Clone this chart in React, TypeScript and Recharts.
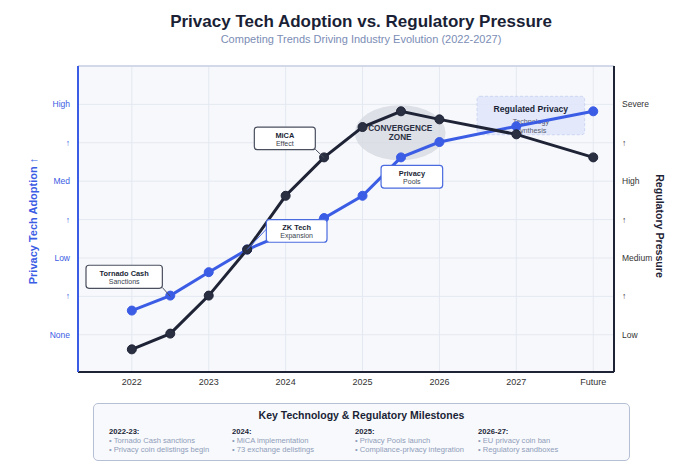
import React from 'react';
import {
  ComposedChart,
  Line,
  XAxis,
  YAxis,
  CartesianGrid,
  ReferenceArea,
  ReferenceLine,
} from 'recharts';

// ---- data ----
const periods = [2022, 2022.5, 2023, 2023.5, 2024, 2024.5, 2025, 2025.5, 2026, 2027, 2028];
const adoption = [0.63, 1.02, 1.63, 2.22, 2.64, 3.04, 3.62, 4.62, 5.02, 5.43, 5.82];
const pressure = [-0.38, 0.03, 1.02, 2.22, 3.62, 4.62, 5.41, 5.82, 5.61, 5.22, 4.62];
const xTicks = [2022, 2023, 2024, 2025, 2026, 2027, 2028];
const xTickLabels = ['2022', '2023', '2024', '2025', '2026', '2027', 'Future'];
const levelTicks = [0, 1, 2, 3, 4, 5, 6];
const adoptionLabels = ['None', '↑', 'Low', '↑', 'Med', '↑', 'High'];
const pressureLabels = ['Low', '↑', 'Medium', '↑', 'High', '↑', 'Severe'];

const annotations = [
  { x1: 2021.404, x2: 2022.397, y1: 1.21, y2: 1.81, title: 'Tornado Cash', sub: 'Sanctions', border: '#4a4f5e' },
  { x1: 2023.593, x2: 2024.386, y1: 4.82, y2: 5.41, title: 'MiCA', sub: 'Effect', border: '#4a4f5e' },
  { x1: 2023.749, x2: 2024.538, y1: 2.41, y2: 3.0, title: 'ZK Tech', sub: 'Expansion', border: '#4a6be0' },
  { x1: 2025.241, x2: 2026.042, y1: 3.82, y2: 4.41, title: 'Privacy', sub: 'Pools', border: '#4a6be0' },
];
const pointers = [
  { from: [2022.397, 1.23], to: [2022.5, 1.0], color: '#4a4f5e' },
  { from: [2024.386, 4.83], to: [2024.5, 4.61], color: '#4a4f5e' },
  { from: [2023.5, 2.22], to: [2023.749, 2.75], color: '#4a6be0' },
];
const convergence = { x1: 2024.9, x2: 2026.08, y1: 4.54, y2: 5.98, lines: ['CONVERGENCE', 'ZONE'] };
const regulated = { x1: 2026.489, x2: 2027.888, y1: 5.21, y2: 6.21, title: 'Regulated Privacy', lines: ['Technology', 'Synthesis'] };

const milestones = [
  { head: '2022-23:', items: ['Tornado Cash sanctions', 'Privacy coin delistings begin'] },
  { head: '2024:', items: ['MiCA implementation', '73 exchange delistings'] },
  { head: '2025:', items: ['Privacy Pools launch', 'Compliance-privacy integration'] },
  { head: '2026-27:', items: ['EU privacy coin ban', 'Regulatory sandboxes'] },
];

const rows = periods.map((p, i) => ({ period: p, adoption: adoption[i], pressure: pressure[i] }));

const BLUE = '#3b5ce4';
const DARK = '#1f2336';
const FONT = '"Liberation Sans", Arial, Helvetica, sans-serif';

const boxShape = (a: any) => (props: any) => {
  const { x, y, width, height } = props;
  const cx = x + width / 2;
  return (
    <g>
      <rect x={x} y={y} width={width} height={height} rx={3} ry={3} fill="#ffffff" stroke={a.border} strokeWidth={1.2} />
      <text x={cx} y={y + height * 0.36} textAnchor="middle" dominantBaseline="central" fontSize={7.4} fontWeight="bold" fill="#1a1f36" fontFamily={FONT}>
        {a.title}
      </text>
      <text x={cx} y={y + height * 0.71} textAnchor="middle" dominantBaseline="central" fontSize={7} fill="#3a3f4e" fontFamily={FONT}>
        {a.sub}
      </text>
    </g>
  );
};

const ellipseShape = (props: any) => {
  const { x, y, width, height } = props;
  const cx = x + width / 2;
  const cy = y + height / 2;
  return (
    <g>
      <ellipse cx={cx} cy={cy} rx={width / 2} ry={height / 2} fill="#d6d9e1" fillOpacity={0.8} />
      <text x={cx} y={cy - 4.5} textAnchor="middle" dominantBaseline="central" fontSize={8.2} fontWeight="bold" fill="#2a2f42" fontFamily={FONT}>
        {convergence.lines[0]}
      </text>
      <text x={cx} y={cy + 5} textAnchor="middle" dominantBaseline="central" fontSize={8.2} fontWeight="bold" fill="#2a2f42" fontFamily={FONT}>
        {convergence.lines[1]}
      </text>
    </g>
  );
};

const regulatedShape = (props: any) => {
  const { x, y, width, height } = props;
  const cx = x + width / 2;
  return (
    <g>
      <rect x={x} y={y} width={width} height={height} rx={3} fill="#dfe5fa" fillOpacity={0.85} stroke="#cdd6f3" strokeDasharray="3 2" />
      <text x={cx} y={y + 12.3} textAnchor="middle" dominantBaseline="central" fontSize={8.6} fontWeight="bold" fill="#1a1f36" fontFamily={FONT}>
        {regulated.title}
      </text>
      <text x={cx} y={y + 25} textAnchor="middle" dominantBaseline="central" fontSize={7.2} fill="#555b6e" fontFamily={FONT}>
        {regulated.lines[0]}
      </text>
      <text x={cx} y={y + 34} textAnchor="middle" dominantBaseline="central" fontSize={7.2} fill="#555b6e" fontFamily={FONT}>
        {regulated.lines[1]}
      </text>
    </g>
  );
};

export default function App() {
  return (
    <div style={{ position: 'absolute', left: 0, top: 0, width: 700, height: 467, background: '#ffffff', fontFamily: FONT }}>
      <div style={{ position: 'absolute', left: 161, width: 400, top: 11, textAlign: 'center', fontSize: 17, fontWeight: 'bold', color: '#1a1f36', lineHeight: '22px' }}>
        Privacy Tech Adoption vs. Regulatory Pressure
      </div>
      <div style={{ position: 'absolute', left: 161, width: 400, top: 32, textAlign: 'center', fontSize: 11, color: '#7b8db5', lineHeight: '14px' }}>
        Competing Trends Driving Industry Evolution (2022-2027)
      </div>

      <div style={{ position: 'absolute', left: 0, top: 0 }}>
        <ComposedChart width={700} height={467} data={rows} margin={{ top: 66, right: 56, bottom: 65, left: 48 }}>
          <CartesianGrid yAxisId="left" stroke="#e4e8f0" strokeWidth={1} fill="#f7f8fc" />
          <XAxis
            dataKey="period"
            type="number"
            domain={[2021.3, 2028.27]}
            ticks={xTicks}
            tickFormatter={(v: number) => xTickLabels[xTicks.indexOf(v)]}
            height={30}
            tickSize={0}
            tickMargin={7}
            axisLine={{ stroke: DARK, strokeWidth: 2 }}
            tick={{ fill: '#333333', fontSize: 9, fontFamily: FONT }}
            allowDataOverflow
          />
          <YAxis
            yAxisId="left"
            orientation="left"
            type="number"
            domain={[-0.97, 7]}
            ticks={levelTicks}
            tickFormatter={(v: number) => adoptionLabels[v]}
            width={30}
            tickSize={0}
            tickMargin={8}
            axisLine={{ stroke: BLUE, strokeWidth: 2 }}
            tick={{ fill: BLUE, fontSize: 8.5, fontFamily: FONT }}
            allowDataOverflow
          />
          <YAxis
            yAxisId="right"
            orientation="right"
            type="number"
            domain={[-0.97, 7]}
            ticks={levelTicks}
            tickFormatter={(v: number) => pressureLabels[v]}
            width={30}
            tickSize={0}
            tickMargin={8}
            axisLine={{ stroke: DARK, strokeWidth: 2 }}
            tick={{ fill: '#333333', fontSize: 8.5, fontFamily: FONT, textAnchor: 'start' }}
            allowDataOverflow
          />
          <ReferenceLine yAxisId="left" y={7} stroke="#c9d1e3" strokeWidth={1.5} ifOverflow="visible" />
          <ReferenceArea
            yAxisId="left"
            x1={convergence.x1}
            x2={convergence.x2}
            y1={convergence.y1}
            y2={convergence.y2}
            shape={ellipseShape}
            ifOverflow="visible"
            zIndex={100}
          />
          <ReferenceArea
            yAxisId="left"
            x1={regulated.x1}
            x2={regulated.x2}
            y1={regulated.y1}
            y2={regulated.y2}
            shape={regulatedShape}
            ifOverflow="visible"
            zIndex={100}
          />
          <Line
            yAxisId="left"
            dataKey="adoption"
            stroke={BLUE}
            strokeWidth={3}
            dot={{ r: 4.5, fill: BLUE, stroke: BLUE, strokeWidth: 1 }}
            activeDot={false}
            isAnimationActive={false}
          />
          <Line
            yAxisId="right"
            dataKey="pressure"
            stroke={DARK}
            strokeWidth={3}
            dot={{ r: 4.5, fill: '#2a2f42', stroke: DARK, strokeWidth: 1 }}
            activeDot={false}
            isAnimationActive={false}
          />
          {pointers.map((p, i) => (
            <ReferenceLine
              key={'p' + i}
              yAxisId="left"
              segment={[
                { x: p.from[0], y: p.from[1] },
                { x: p.to[0], y: p.to[1] },
              ]}
              stroke={p.color}
              strokeWidth={1}
              ifOverflow="visible"
              zIndex={1400}
            />
          ))}
          {annotations.map((a, i) => (
            <ReferenceArea
              key={'a' + i}
              yAxisId="left"
              x1={a.x1}
              x2={a.x2}
              y1={a.y1}
              y2={a.y2}
              shape={boxShape(a)}
              ifOverflow="visible"
              zIndex={1500}
            />
          ))}
        </ComposedChart>
      </div>

      <svg width={700} height={467} style={{ position: 'absolute', left: 0, top: 0, pointerEvents: 'none' }}>
        <text x={32.5} y={221} transform="rotate(-90 32.5 221)" textAnchor="middle" dominantBaseline="central" fontSize={11} fontWeight="bold" fill={BLUE} fontFamily={FONT}>
          Privacy Tech Adoption ↑
        </text>
        <text x={660} y={226} transform="rotate(90 660 226)" textAnchor="middle" dominantBaseline="central" fontSize={10.6} fontWeight="bold" fill={DARK} fontFamily={FONT}>
          Regulatory Pressure
        </text>
      </svg>

      <div style={{ position: 'absolute', left: 93, top: 403, width: 535, height: 56, border: '1px solid #b6c0d4', borderRadius: 5, background: '#f8f9fc' }}>
        <div style={{ position: 'absolute', left: 0, width: 535, top: 5, textAlign: 'center', fontSize: 10.5, fontWeight: 'bold', color: '#1a1f36', lineHeight: '13px' }}>
          Key Technology &amp; Regulatory Milestones
        </div>
        {milestones.map((m, i) => (
          <div key={m.head} style={{ position: 'absolute', left: 15 + i * 123, top: 23, width: 122 }}>
            <div style={{ fontSize: 7.6, fontWeight: 'bold', color: '#1a1f36', lineHeight: '10px' }}>{m.head}</div>
            {m.items.map((t) => (
              <div key={t} style={{ fontSize: 7.6, color: '#8f9dba', lineHeight: '8.5px' }}>
                {'• ' + t}
              </div>
            ))}
          </div>
        ))}
      </div>
    </div>
  );
}
